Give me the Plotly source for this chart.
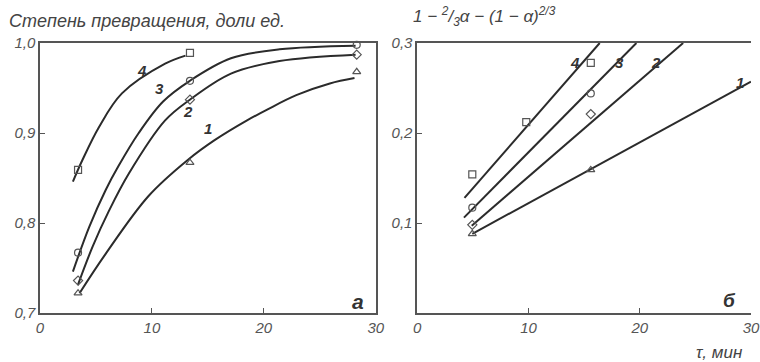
import plotly.graph_objects as go

# ---- Panel a: conversion degree vs time (smooth curves)
c1_t = [3.53, 5.88, 9.7, 13.2, 15.6, 18.5, 20.3, 22.9, 25.9, 28.1]
c1_y = [0.722, 0.766, 0.830, 0.870, 0.892, 0.914, 0.926, 0.942, 0.955, 0.961]
c2_t = [3.38, 4.71, 6.18, 7.94, 11.18, 13.39, 17.06, 21.4, 28.2]
c2_y = [0.731, 0.774, 0.814, 0.855, 0.914, 0.937, 0.966, 0.980, 0.987]
c3_t = [2.94, 4.41, 5.88, 7.0, 8.82, 11.0, 13.39, 17.06, 21.4, 28.2]
c3_y = [0.746, 0.796, 0.837, 0.863, 0.900, 0.935, 0.958, 0.983, 0.993, 0.997]
c4_t = [2.94, 3.79, 5.29, 7.32, 11.18, 13.0]
c4_y = [0.846, 0.870, 0.907, 0.944, 0.977, 0.986]

p1_t = [3.4, 13.4, 28.3]
p1_y = [0.722, 0.867, 0.968]
p2_t = [3.4, 13.4, 28.3]
p2_y = [0.736, 0.937, 0.987]
p3_t = [3.4, 13.4, 28.3]
p3_y = [0.767, 0.958, 0.998]
p4_t = [3.4, 13.4]
p4_y = [0.859, 0.989]

# ---- Panel b: linearised kinetics
b1_line_t = [4.95, 30.0]
b1_line_y = [0.088, 0.257]
b2_line_t = [4.9, 23.9]
b2_line_y = [0.097, 0.300]
b3_line_t = [4.2, 19.7]
b3_line_y = [0.106, 0.300]
b4_line_t = [4.25, 16.4]
b4_line_y = [0.128, 0.300]

b1_t = [4.95, 15.6]
b1_y = [0.088, 0.159]
b2_t = [4.95, 15.6]
b2_y = [0.098, 0.221]
b3_t = [4.95, 15.6]
b3_y = [0.117, 0.244]
b4_t = [4.95, 9.8, 15.6]
b4_y = [0.154, 0.212, 0.278]

left_yticks = [0.7, 0.8, 0.9, 1.0]
right_yticks = [0.1, 0.2, 0.3]
xticks = [0, 10, 20, 30]

LINE = "#2b2b2b"
MARK = "#555555"
AX = "#555555"
FONT = "Liberation Sans"

fig = go.Figure()

curves_a = [(c1_t, c1_y), (c2_t, c2_y), (c3_t, c3_y), (c4_t, c4_y)]
for t, y in curves_a:
    fig.add_trace(go.Scatter(x=t, y=y, mode="lines",
                             line=dict(color=LINE, width=2, shape="spline", smoothing=1.0),
                             xaxis="x", yaxis="y", showlegend=False, hoverinfo="skip"))

symbols = ["triangle-up-open", "diamond-open", "circle-open", "square-open"]
pts_a = [(p1_t, p1_y), (p2_t, p2_y), (p3_t, p3_y), (p4_t, p4_y)]
for (t, y), s in zip(pts_a, symbols):
    fig.add_trace(go.Scatter(x=t, y=y, mode="markers",
                             marker=dict(symbol=s, size=7, color=MARK, line=dict(width=1.2, color=MARK)),
                             xaxis="x", yaxis="y", showlegend=False, cliponaxis=False))

lines_b = [(b1_line_t, b1_line_y), (b2_line_t, b2_line_y), (b3_line_t, b3_line_y), (b4_line_t, b4_line_y)]
for t, y in lines_b:
    fig.add_trace(go.Scatter(x=t, y=y, mode="lines", line=dict(color=LINE, width=2),
                             xaxis="x2", yaxis="y2", showlegend=False, hoverinfo="skip"))

pts_b = [(b1_t, b1_y), (b2_t, b2_y), (b3_t, b3_y), (b4_t, b4_y)]
for (t, y), s in zip(pts_b, symbols):
    fig.add_trace(go.Scatter(x=t, y=y, mode="markers",
                             marker=dict(symbol=s, size=7, color=MARK, line=dict(width=1.2, color=MARK)),
                             xaxis="x2", yaxis="y2", showlegend=False, cliponaxis=False))

tickfont = dict(family=FONT, size=15, color="#555555", style="italic")
axis_common = dict(showgrid=False, zeroline=False, showline=True, linecolor=AX, linewidth=1.5,
                   ticks="inside", ticklen=5, tickcolor=AX, tickwidth=1,
                   tickfont=tickfont)

lab = dict(family=FONT, size=15, color="#333333", weight="bold", style="italic")
annotations = [
    dict(text="4", x=9.15, y=0.969, xref="x", yref="y"),
    dict(text="3", x=10.7, y=0.950, xref="x", yref="y"),
    dict(text="2", x=13.23, y=0.924, xref="x", yref="y"),
    dict(text="1", x=15.0, y=0.905, xref="x", yref="y"),
    dict(text="4", x=14.2, y=0.278, xref="x2", yref="y2"),
    dict(text="3", x=18.2, y=0.278, xref="x2", yref="y2"),
    dict(text="2", x=21.5, y=0.278, xref="x2", yref="y2"),
    dict(text="1", x=29.0, y=0.256, xref="x2", yref="y2"),
]
for a in annotations:
    a.update(showarrow=False, font=lab)
annotations += [
    dict(text="а", x=28.4, y=0.713, xref="x", yref="y", showarrow=False,
         font=dict(family=FONT, size=21, color="#333333", weight="bold", style="italic")),
    dict(text="б", x=28.1, y=0.014, xref="x2", yref="y2", showarrow=False,
         font=dict(family=FONT, size=19, color="#333333", weight="bold", style="italic")),
    dict(text="Степень превращения, доли ед.", x=7, y=21, xref="paper", yref="paper",
         showarrow=False, xanchor="left", yanchor="middle",
         font=dict(family=FONT, size=18, color="#444444", style="italic")),
    dict(text="1 − <sup>2</sup>/<sub>3</sub>α − (1 − α)<sup>2/3</sup>", x=416, y=17,
         xref="paper", yref="paper", showarrow=False, xanchor="left", yanchor="middle",
         font=dict(family=FONT, size=17, color="#444444", style="italic")),
    dict(text="τ, мин", x=702, y=352, xref="paper", yref="paper", showarrow=False,
         xanchor="left", yanchor="middle",
         font=dict(family=FONT, size=17, color="#444444", style="italic")),
]

# convert pixel positions of the free text labels to paper coordinates
W, H = 760, 362
ML, MR, MT, MB = 40, 0, 43, 49
PW, PH = W - ML - MR, H - MT - MB
for a in annotations:
    if a.get("xref") == "paper":
        a["x"] = (a["x"] - ML) / PW
        a["y"] = (H - MB - a["y"]) / PH

fig.update_layout(
    width=W, height=H,
    margin=dict(l=ML, r=MR, t=MT, b=MB),
    paper_bgcolor="white", plot_bgcolor="white",
    separators=", ",
    xaxis=dict(domain=[0, 340 / PW], range=[0, 30], tickvals=xticks, mirror=True,
               **axis_common),
    yaxis=dict(domain=[0, 1], range=[0.7, 1.0], tickvals=left_yticks, tickformat=".1f",
               mirror=True, **axis_common),
    xaxis2=dict(domain=[(422 - ML) / PW, 1], range=[0, 30], tickvals=xticks,
                anchor="y2", mirror=True, ticklabeloverflow="allow", **axis_common),
    yaxis2=dict(domain=[0, 1], range=[0, 0.3], tickvals=right_yticks, tickformat=".1f",
                anchor="x2", mirror=False, **axis_common),
    annotations=annotations,
)

fig.write_html("out.html", config={"displayModeBar": False},
               post_script="document.body.style.margin='0px';document.body.style.overflow='hidden';")
